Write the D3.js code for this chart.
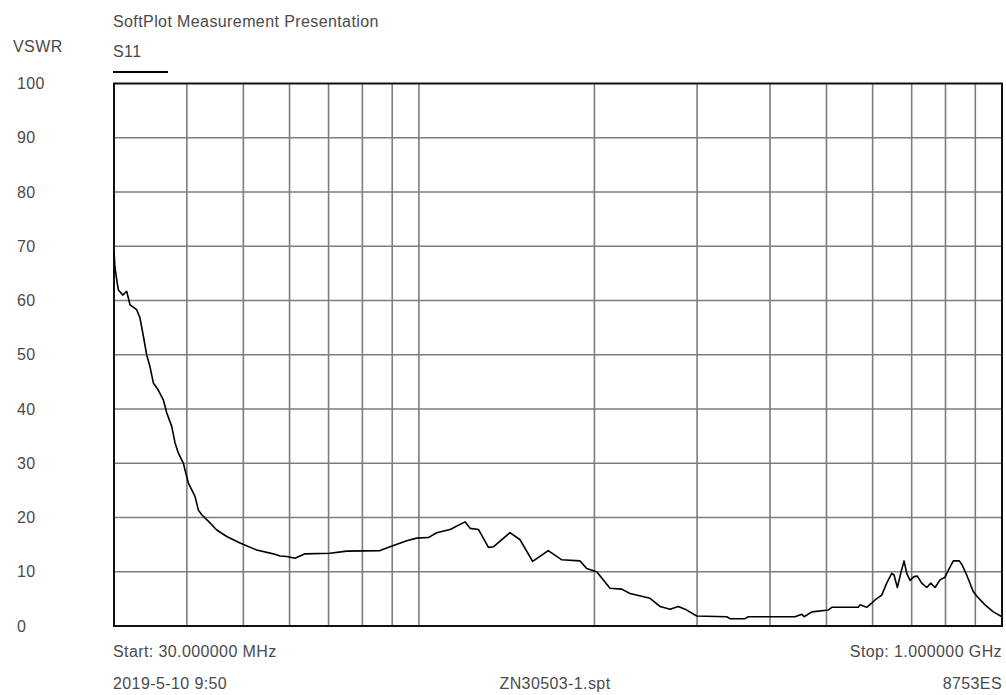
<!DOCTYPE html>
<html><head><meta charset="utf-8">
<script src="https://cdn.jsdelivr.net/npm/d3@7/dist/d3.min.js"></script>
<style>
body{margin:0;background:#fff}
svg{display:block}
text{font-family:"Liberation Sans",Arial,sans-serif;font-size:16px;fill:#4a4a4a;letter-spacing:0.4px}
</style>
</head><body>
<svg id="chart" width="1006" height="695"></svg>
<script>
// S11 VSWR trace: frequency (MHz) and VSWR values
const freqMHz = [30.0,30.12,30.36,30.51,31.05,31.54,31.96,32.81,33.24,33.68,34.13,34.58,35.04,35.73,36.45,36.94,37.68,38.17,38.67,39.45,40.23,41.31,41.85,42.42,43.84,45.01,46.82,49.34,52.71,56.28,57.8,59.35,61.31,63.78,70.4,75.2,85.77,89.23,95.3,99.14,103.8,107.3,113.1,120.0,122.4,126.5,131.6,134.2,143.3,149.1,156.7,166.7,175.8,188.9,194.0,201.8,212.7,222.7,230.2,249.1,259.1,269.6,278.6,286.1,299.5,337.2,341.6,362.5,367.2,441.7,453.6,457.7,471.9,503.9,510.7,567.0,570.8,586.1,597.8,605.7,621.9,634.3,647.0,652.9,661.5,670.4,679.2,686.5,695.5,706.5,715.8,728.3,742.9,754.7,767.6,782.9,798.5,809.0,825.1,844.9,852.9,869.9,893.0,907.2,935.2,966.3,1000];
const vswr    = [69.0,66.0,63.5,62.0,61.0,61.7,59.2,58.3,56.8,53.5,50.0,47.8,44.8,43.5,41.7,39.3,36.8,33.8,31.9,30.0,26.4,23.9,21.4,20.5,19.0,17.7,16.5,15.3,14.0,13.3,12.9,12.8,12.5,13.3,13.4,13.8,13.9,14.6,15.7,16.2,16.3,17.2,17.8,19.2,18.0,17.8,14.5,14.6,17.2,15.9,11.9,13.9,12.2,12.0,10.6,10.0,6.95,6.8,6.0,5.1,3.6,3.1,3.6,3.1,1.85,1.7,1.35,1.35,1.7,1.7,2.15,1.7,2.6,2.95,3.45,3.45,3.9,3.45,4.2,4.8,5.7,7.9,9.7,9.4,7.1,9.7,12.0,9.7,8.4,9.1,9.2,7.9,7.1,7.9,7.1,8.5,9.0,10.3,12.0,12.0,11.4,9.4,6.3,5.4,3.9,2.6,1.7];

const yTicks = [0,10,20,30,40,50,60,70,80,90,100];
const yTickLabels = ["0","10","20","30","40","50","60","70","80","90","100"];
const xGridMHz = [40,50,60,70,80,90,100,200,300,400,500,600,700,800,900];
const freqDomain = [30,1000];
const vswrDomain = [0,100];

const titleText = "SoftPlot Measurement Presentation";
const yAxisTitle = "VSWR";
const seriesName = "S11";
const startLabel = "Start: 30.000000 MHz";
const stopLabel = "Stop: 1.000000 GHz";
const dateLabel = "2019-5-10 9:50";
const fileLabel = "ZN30503-1.spt";
const instrLabel = "8753ES";

const svg = d3.select("#chart");
const L = 114, R = 1002, T = 83.5, B = 626;

const x = d3.scaleLog().domain(freqDomain).range([L, R]);
const y = d3.scaleLinear().domain(vswrDomain).range([B, T]);

// grid
const grid = svg.append("g").attr("stroke", "#7d7d7d").attr("stroke-width", 1.6);
grid.selectAll("line.v").data(xGridMHz).join("line").attr("class","v")
  .attr("x1", d => x(d)).attr("x2", d => x(d)).attr("y1", T).attr("y2", B);
grid.selectAll("line.h").data(yTicks.filter(d => d > 0 && d < 100)).join("line").attr("class","h")
  .attr("x1", L).attr("x2", R).attr("y1", d => y(d)).attr("y2", d => y(d));

// frame
svg.append("rect").attr("x", L).attr("y", T).attr("width", R - L).attr("height", B - T)
  .attr("fill", "none").attr("stroke", "#111").attr("stroke-width", 2);

// trace
const pts = freqMHz.map((f, i) => [f, vswr[i]]);
svg.append("path").datum(pts)
  .attr("fill", "none").attr("stroke", "#000").attr("stroke-width", 1.6)
  .attr("stroke-linejoin", "round")
  .attr("d", d3.line().x(d => x(d[0])).y(d => y(d[1])));

// y tick labels
svg.append("g").selectAll("text").data(yTicks).join("text")
  .attr("x", 17).attr("y", d => y(d) + 5.5)
  .text((d, i) => yTickLabels[i]);

// headers
svg.append("text").attr("x", 113).attr("y", 26.5).text(titleText);
svg.append("text").attr("x", 13).attr("y", 51.5).text(yAxisTitle);
svg.append("text").attr("x", 113).attr("y", 57).text(seriesName);
svg.append("line").attr("x1", 113).attr("x2", 168).attr("y1", 72).attr("y2", 72)
  .attr("stroke", "#000").attr("stroke-width", 2);

// footer
svg.append("text").attr("x", 113).attr("y", 657).text(startLabel);
svg.append("text").attr("x", R).attr("y", 657).attr("text-anchor", "end").text(stopLabel);
svg.append("text").attr("x", 113).attr("y", 688.5).text(dateLabel);
svg.append("text").attr("x", (L + R) / 2 - 3).attr("y", 689).attr("text-anchor", "middle").text(fileLabel);
svg.append("text").attr("x", R).attr("y", 689).attr("text-anchor", "end").text(instrLabel);
</script>
</body></html>
